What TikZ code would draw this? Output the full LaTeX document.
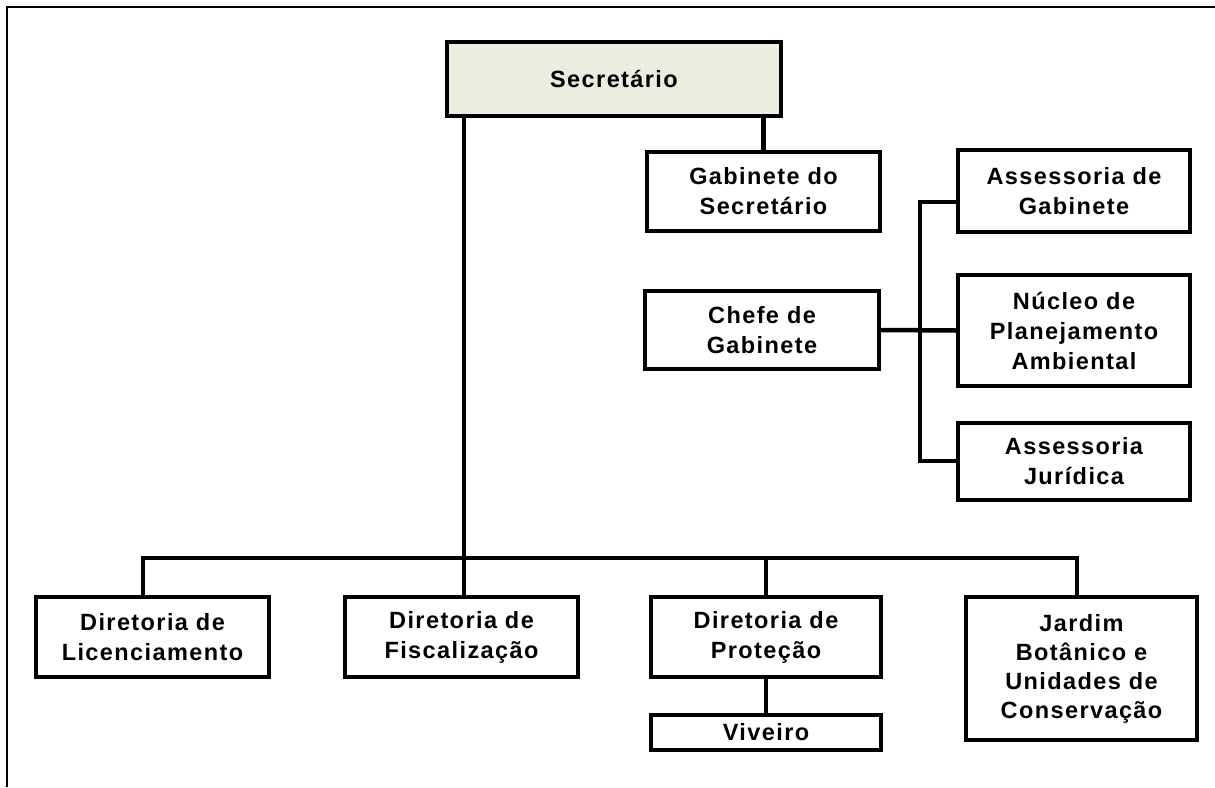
\documentclass[tikz,border=0pt]{standalone}
\usepackage{fontspec}
\setmainfont{Liberation Sans}[LetterSpace=6]
\definecolor{secfill}{RGB}{235,238,222}
\begin{document}
\begin{tikzpicture}[x=1pt,y=-1pt,
  box/.style={draw=black,line width=3.8pt,fill=white,align=center,inner sep=0pt,
    font=\fontsize{23.5}{30}\selectfont\bfseries},
  conn/.style={draw=black,line width=4.5pt}]
\useasboundingbox (0,0) rectangle (1215,787);
% frame
\draw[line width=2.6pt] (7,787) -- (7,7) -- (1215,7);
% nodes
\node[box,fill=secfill,minimum width=334pt,minimum height=74pt] (sec) at (614,79) {Secretário};
\node[box,minimum width=233pt,minimum height=79pt] (gab) at (763.5,191.5) {Gabinete do\\Secretário};
\node[box,minimum width=234pt,minimum height=78pt] (chefe) at (762,330) {Chefe de\\Gabinete};
\node[box,minimum width=232pt,minimum height=82pt] (assg) at (1074,191) {Assessoria de\\Gabinete};
\node[box,minimum width=232pt,minimum height=111pt] (nucleo) at (1074,330.5) {Núcleo de\\Planejamento\\Ambiental};
\node[box,minimum width=232pt,minimum height=77pt] (assj) at (1074,461.5) {Assessoria\\Jurídica};
\node[box,minimum width=233pt,minimum height=80pt] (lic) at (152.5,637) {Diretoria de\\Licenciamento};
\node[box,minimum width=233pt,minimum height=80pt] (fis) at (461.5,637) {Diretoria de\\Fiscalização};
\node[box,minimum width=230pt,minimum height=80pt] (pro) at (766,637) {Diretoria de\\Proteção};
\node[box,minimum width=230pt,minimum height=35pt] (viv) at (766,732.5) {Viveiro};
\node[box,font=\fontsize{23.5}{29}\selectfont\bfseries,minimum width=231pt,minimum height=143pt] (jar) at (1081.5,668.5) {Jardim\\Botânico e\\Unidades de\\Conservação};
% coordinates
\coordinate (d1) at (143,558);
\coordinate (d2) at (464,558);
\coordinate (d3) at (766,558);
\coordinate (d4) at (1077,558);
\coordinate (v1) at (920,202);
\coordinate (v2) at (920,461);
% connectors
\draw[conn] (d2 |- sec.south) -- (d2);
\draw[conn,line cap=rect] (d1) -- (d4);
\draw[conn] (d1) -- (d1 |- lic.north);
\draw[conn] (d2) -- (d2 |- fis.north);
\draw[conn] (d3) -- (d3 |- pro.north);
\draw[conn] (d4) -- (d4 |- jar.north);
\draw[conn] (gab.north |- sec.south) -- (gab.north);
\draw[conn] (pro.south) -- (viv.north);
\draw[conn] (chefe.east) -- (nucleo.west);
\draw[conn,line cap=rect] (v1) -- (v2);
\draw[conn] (v1) -- (v1 -| assg.west);
\draw[conn] (v2) -- (v2 -| assj.west);
\end{tikzpicture}
\end{document}
